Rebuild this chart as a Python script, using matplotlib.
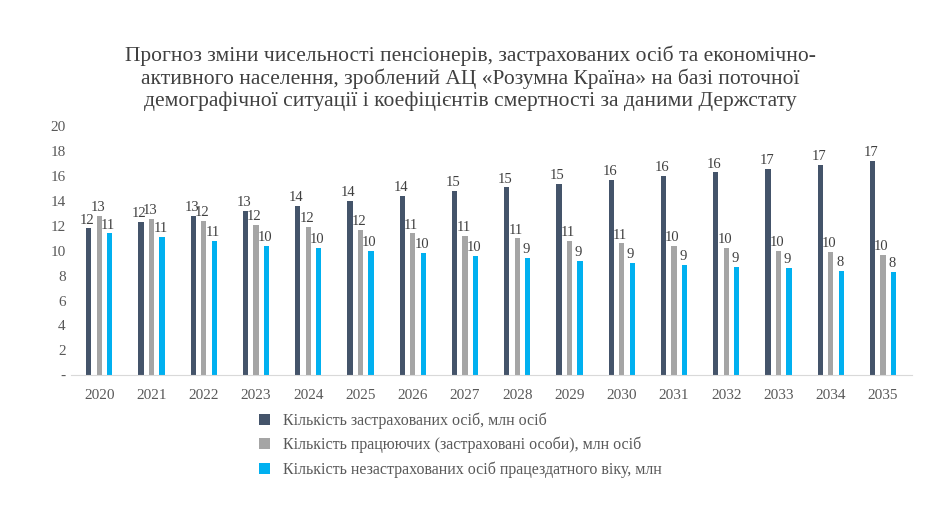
import matplotlib
matplotlib.use("Agg")
import matplotlib.pyplot as plt
import numpy as np

years = [str(y) for y in range(2020, 2036)]
insured = [11.8, 12.3, 12.8, 13.2, 13.6, 14.0, 14.4, 14.8, 15.1, 15.4, 15.7, 16.0, 16.3, 16.6, 16.9, 17.2]
working = [12.8, 12.6, 12.4, 12.1, 11.9, 11.7, 11.4, 11.2, 11.0, 10.8, 10.6, 10.4, 10.2, 10.0, 9.9, 9.7]
uninsured = [11.4, 11.1, 10.8, 10.4, 10.2, 10.0, 9.8, 9.6, 9.4, 9.2, 9.0, 8.9, 8.7, 8.6, 8.4, 8.3]
labels = [
    "Кількість застрахованих осіб, млн осіб",
    "Кількість працюючих (застраховані особи), млн осіб",
    "Кількість незастрахованих осіб працездатного віку, млн",
]
colors = ["#44546a", "#a5a5a5", "#00b0f0"]
title = ("Прогноз зміни чисельності пенсіонерів, застрахованих осіб та економічно-\n"
         "активного населення, зроблений АЦ «Розумна Країна» на базі поточної\n"
         "демографічної ситуації і коефіцієнтів смертності за даними Держстату")

plt.rcParams["font.family"] = ["Liberation Serif", "DejaVu Serif"]
fig = plt.figure(figsize=(9.4, 5.27), dpi=100)
ax = fig.add_axes([0.075, 0.288, 0.895, 0.472])

x = np.arange(len(years))
w = 0.1
gap = 0.2
for i, (vals, c, lab) in enumerate(zip([insured, working, uninsured], colors, labels)):
    pos = x + (i - 1) * gap
    ax.bar(pos, vals, width=w, color=c, label=lab)
    for xp, v in zip(pos, vals):
        ax.text(xp - 0.03, v + 0.15, f"{v:.0f}", ha="center", va="bottom",
                fontsize=10.5, color="#404040")

ax.set_ylim(0, 20)
ax.set_xlim(-0.55, len(years) - 0.45)
ax.set_yticks(range(0, 21, 2))
ax.set_yticklabels(["-"] + [str(v) for v in range(2, 21, 2)])
ax.set_xticks(x)
ax.set_xticklabels(years)
ax.tick_params(length=0, labelsize=11, colors="#595959")
ax.tick_params(axis="x", pad=10)
for s in ["top", "right", "left"]:
    ax.spines[s].set_visible(False)
ax.spines["bottom"].set_color("#d9d9d9")

fig.text(0.5, 0.79, title, ha="center", va="bottom", fontsize=15.5,
         color="#404040", linespacing=1.15)
fig.legend(loc="upper left", bbox_to_anchor=(0.26, 0.245), frameon=False,
           fontsize=11.5, labelcolor="#595959", handlelength=0.7,
           handleheight=0.7, labelspacing=0.5)

fig.savefig("out.png", dpi=100)
